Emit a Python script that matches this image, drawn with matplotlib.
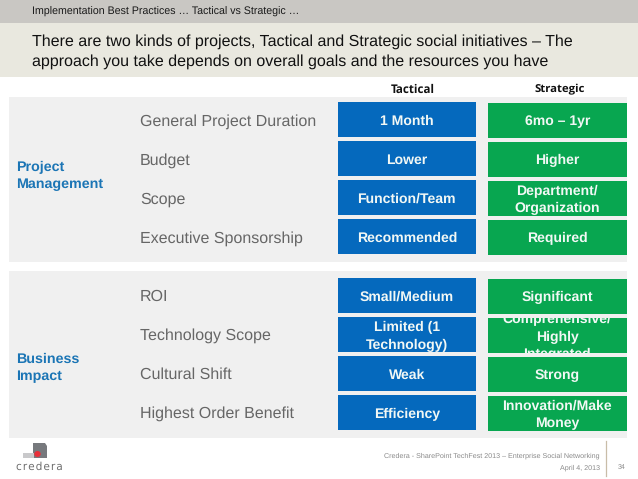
import matplotlib
matplotlib.use("Agg")
import matplotlib.pyplot as plt
from matplotlib.patches import Rectangle, Polygon, Ellipse

plt.rcParams['font.family'] = ['Liberation Sans', 'DejaVu Sans']
plt.rcParams['text.hinting'] = 'none'

header = "Implementation Best Practices … Tactical vs Strategic …"
title = ["There are two kinds of projects, Tactical and Strategic social initiatives – The",
         "approach you take depends on overall goals and the resources you have"]
columns = ["Tactical", "Strategic"]
groups = ["Project\nManagement", "Business\nImpact"]
project_rows = ["General Project Duration", "Budget", "Scope", "Executive Sponsorship"]
project_tactical = ["1 Month", "Lower", "Function/Team", "Recommended"]
project_strategic = ["6mo – 1yr", "Higher", "Department/\nOrganization", "Required"]
impact_rows = ["ROI", "Technology Scope", "Cultural Shift", "Highest Order Benefit"]
impact_tactical = ["Small/Medium", "Limited (1\nTechnology)", "Weak", "Efficiency"]
impact_strategic = ["Significant", "Comprehensive/\nHighly\nIntegrated", "Strong", "Innovation/Make\nMoney"]
footer = "Credera - SharePoint TechFest 2013 – Enterprise Social Networking"
footer_date = "April 4, 2013"
page = "34"

BLUE, GREEN = "#0569bd", "#08a650"

fig = plt.figure(figsize=(6.38, 4.79), dpi=100)
ax = fig.add_axes([0, 0, 1, 1])
ax.set_xlim(0, 638)
ax.set_ylim(479, 0)
ax.axis("off")

ax.add_patch(Rectangle((0, 0), 638, 23, fc="#c9c7c3", ec="none"))
ax.add_patch(Rectangle((0, 23), 638, 53.5, fc="#e9e8df", ec="none"))
ax.text(32, 11.5, header, fontsize=7.65, va="center", color="#1a1a1a")
ax.text(32, 42, title[0], fontsize=11.5, va="center", color="#111111")
ax.text(32, 62, title[1], fontsize=11.5, va="center", color="#111111")

ax.text(413, 89.5, columns[0], fontsize=8.4, fontweight="bold", ha="center", va="center",
        family=["Open Sans", "DejaVu Sans"], color="#111111")
ax.text(559.5, 89.5, columns[1], fontsize=8.2, fontweight="bold", ha="center", va="center",
        family=["Open Sans", "DejaVu Sans"], color="#111111")


def box(x, y, w, h, color, label):
    r = Rectangle((x, y), w, h, fc=color, ec="none", zorder=2)
    ax.add_patch(r)
    shift = 2.0 if "\n" in label else 1.5
    t = ax.text(x + w / 2, y + h / 2 + shift, label, color="#f2f8f5", fontsize=10.1, fontweight="bold",
                ha="center", va="center", linespacing=1.45, zorder=3, clip_on=True)
    t.set_clip_path(r)


def section(top, height, first_box, first_label, group, group_y, rows, tactical, strategic):
    ax.add_patch(Rectangle((9, top), 618, height, fc="#f0f0f0", ec="none", zorder=1))
    ax.text(16, group_y, group, color="#1b75b5", fontsize=10.3, fontweight="bold",
            va="center", linespacing=1.4, zorder=3)
    for i, (name, a, b) in enumerate(zip(rows, tactical, strategic)):
        y = first_box + i * 39
        ax.text(140, first_label + i * 39, name, color="#666666", fontsize=11.5, va="center", zorder=3)
        box(338, y, 137.5, 35, BLUE, a)
        box(488, y + 0.5, 138.5, 35, GREEN, b)


section(97, 165, 102, 121.5, groups[0], 176, project_rows, project_tactical, project_strategic)
section(271, 167, 278, 296.3, groups[1], 368, impact_rows, impact_tactical, impact_strategic)

ax.text(600, 455.5, footer, fontsize=5.13, ha="right", va="center", color="#8a8a8a")
ax.text(600, 467.5, footer_date, fontsize=5.13, ha="right", va="center", color="#8a8a8a")
ax.text(622, 467.5, page, fontsize=5, ha="center", va="center", color="#8a8a8a")
ax.plot([606.3, 606.3], [441, 476], color="#c9bda8", lw=0.9)

# logo
ax.add_patch(Polygon([[33, 443], [45, 443], [47, 446], [47, 458], [33, 458]], fc="#77797d", ec="none"))
ax.add_patch(Rectangle((23, 453), 11, 5, fc="#c9c9cb", ec="none"))
ax.add_patch(Ellipse((37.5, 454), 6.5, 6, fc="#e8303a", ec="none"))
ax.text(39, 467, "c\u200ar\u200ae\u200ad\u200ae\u200ar\u200aa", fontsize=7.6, ha="center", va="center",
        color="#6e6e6e", family=["DejaVu Sans"])

fig.savefig("out.png", dpi=100)
